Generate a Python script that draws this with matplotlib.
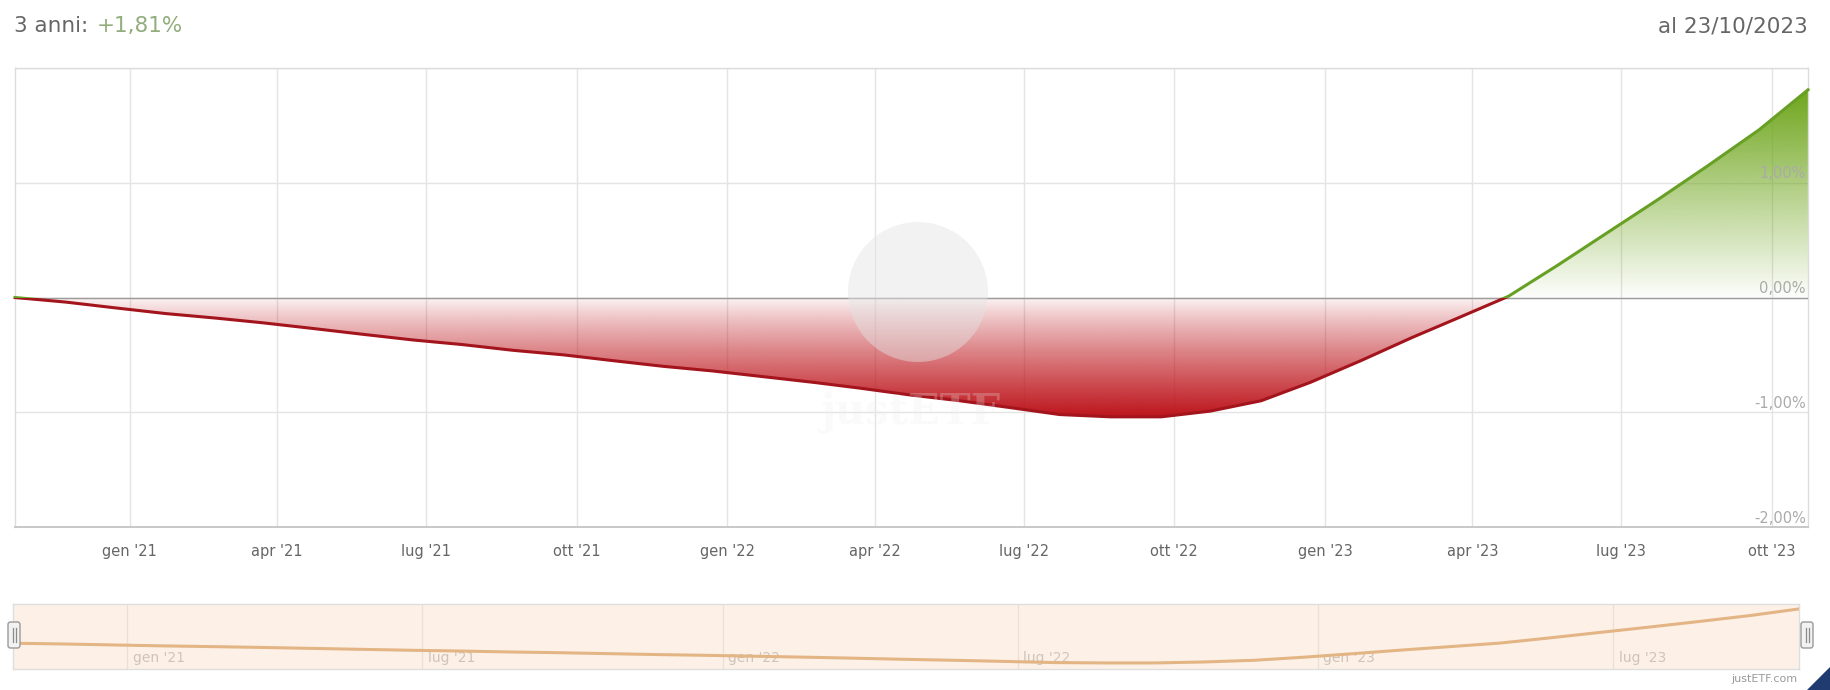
import numpy as np
import pandas as pd
import matplotlib
matplotlib.use("Agg")
import matplotlib.pyplot as plt
import matplotlib.dates as mdates
from matplotlib.colors import to_rgb
from matplotlib.patches import Rectangle, Circle, FancyBboxPatch, Polygon
from matplotlib.lines import Line2D
from matplotlib.path import Path

# ---------------- data ----------------
dates = pd.date_range("2020-10-23", periods=37, freq=pd.DateOffset(months=1))
values = [0.00, -0.04, -0.09, -0.14, -0.18, -0.22, -0.27, -0.32, -0.37, -0.41,
          -0.46, -0.50, -0.55, -0.60, -0.64, -0.69, -0.74, -0.79, -0.85, -0.90,
          -0.96, -1.02, -1.04, -1.04, -0.99, -0.90, -0.74, -0.55, -0.35, -0.18,
          0.01, 0.28, 0.57, 0.85, 1.15, 1.46, 1.81]

x_tick_dates = ["2021-01-01", "2021-04-01", "2021-07-01", "2021-10-01",
                "2022-01-01", "2022-04-01", "2022-07-01", "2022-10-01",
                "2023-01-01", "2023-04-01", "2023-07-01", "2023-10-01"]
x_tick_labels = ["gen '21", "apr '21", "lug '21", "ott '21",
                 "gen '22", "apr '22", "lug '22", "ott '22",
                 "gen '23", "apr '23", "lug '23", "ott '23"]
y_ticks = [-2, -1, 0, 1]
y_tick_labels = ["-2,00%", "-1,00%", "0,00%", "1,00%"]
nav_tick_dates = ["2021-01-01", "2021-07-01", "2022-01-01",
                  "2022-07-01", "2023-01-01", "2023-07-01"]
nav_tick_labels = ["gen '21", "lug '21", "gen '22", "lug '22", "gen '23", "lug '23"]
title_left = "3 anni:"
title_value = "+1,81%"
title_right = "al 23/10/2023"
credit = "justETF.com"
watermark = "justETF"

# ---------------- figure ----------------
plt.rcParams["font.family"] = ["DejaVu Sans"]
W, H = 1830, 690
fig = plt.figure(figsize=(W / 100, H / 100), dpi=100)
fig.patch.set_facecolor("white")

def px_rect(l, t, r, b):
    return [l / W, 1 - b / H, (r - l) / W, (b - t) / H]

ax = fig.add_axes(px_rect(15, 68, 1808, 527))
xs = mdates.date2num(pd.to_datetime(dates))
ys = np.array(values)

def gradient_area(ax, xs, ys, where, color, y_lo, y_hi, a_lo, a_hi, gamma):
    coll = ax.fill_between(xs, ys, 0, where=where, interpolate=True,
                           facecolor="none", edgecolor="none", lw=0)
    clip = Path.make_compound_path(*coll.get_paths())
    rgb = to_rgb(color)
    n = 300
    t = np.linspace(0, 1, n)
    if a_lo > a_hi:
        alpha = a_hi + (a_lo - a_hi) * (1 - t) ** gamma
    else:
        alpha = a_lo + (a_hi - a_lo) * t ** gamma
    img = np.empty((n, 2, 4))
    img[..., :3] = rgb
    img[..., 3] = alpha[:, None]
    im = ax.imshow(img, extent=[xs[0], xs[-1], y_lo, y_hi], origin="lower",
                   aspect="auto", interpolation="bilinear", zorder=2)
    im.set_clip_path(clip, transform=ax.transData)

gradient_area(ax, xs, ys, ys <= 0, "#bd141b", ys.min(), 0, 1.0, 0.03, 0.85)
gradient_area(ax, xs, ys, ys > 0, "#6ea51b", 0, ys.max(), 0.02, 1.0, 1.0)

red_line, = ax.plot(xs, ys, color="#a3141c", lw=2.2, zorder=4, solid_joinstyle="round")
red_line.set_clip_path(Rectangle((xs[0] - 50, -5), xs[-1] - xs[0] + 100, 5,
                                 transform=ax.transData))
green_line, = ax.plot(xs, ys, color="#67a024", lw=2.2, zorder=4, solid_joinstyle="round")
green_line.set_clip_path(Rectangle((xs[0] - 50, 0), xs[-1] - xs[0] + 100, 5,
                                   transform=ax.transData))

ax.set_xlim(xs[0], xs[-1])
ax.set_ylim(-2, 2)
tick_nums = mdates.date2num(pd.to_datetime(x_tick_dates))
ax.set_xticks(tick_nums)
ax.set_xticklabels(x_tick_labels)
ax.set_yticks([-2, -1, 0, 1, 2])
ax.tick_params(axis="x", length=0, pad=12.5, labelsize=10.5, labelcolor="#666666")
ax.tick_params(axis="y", length=0, labelleft=False)
ax.grid(True, color="#e4e4e4", lw=1.0, zorder=0)
ax.set_axisbelow(True)
ax.axhline(0, color="#9c9c9c", lw=1.0, zorder=3)
for s in ax.spines.values():
    s.set_color("#dcdcdc")
    s.set_linewidth(1.0)
ax.spines["bottom"].set_color("#c8c8c8")
ax.spines["bottom"].set_linewidth(1.4)

for yv, lab in zip(y_ticks, y_tick_labels):
    ax.annotate(lab, xy=(1, yv), xycoords=("axes fraction", "data"),
                xytext=(-1.5, 1), textcoords="offset points",
                ha="right", va="bottom", fontsize=10.5, color="#aaaaaa", zorder=5)

# header
t1 = fig.text(14 / W, 1 - 26 / H, title_left, ha="left", va="center",
              fontsize=15.5, color="#666666")
fig.canvas.draw()
ax.annotate(title_value, xy=(1, 0.5), xycoords=t1, xytext=(6, 0),
            textcoords="offset points", ha="left", va="center",
            fontsize=15.5, color="#91ad7c", annotation_clip=False)
fig.text(1808 / W, 1 - 26 / H, title_right, ha="right", va="center",
         fontsize=15.5, color="#666666")

# watermark
fig.add_artist(Circle((9.18, (H - 292) / 100), 0.70, transform=fig.dpi_scale_trans,
                      facecolor="#e4e4e4", edgecolor="none", alpha=0.45, zorder=5))
fig.text(910 / W, 1 - 412 / H, watermark, ha="center", va="center", fontsize=30,
         family="DejaVu Serif", fontweight="bold", color="#eeeeee", alpha=0.25, zorder=5)

# ---------------- navigator ----------------
nav = fig.add_axes(px_rect(13, 604, 1799, 669))
nav.set_facecolor("#fdf1e7")
nav_nums = mdates.date2num(pd.to_datetime(nav_tick_dates))
for d, lab in zip(nav_nums, nav_tick_labels):
    nav.axvline(d, color="#ebe0d6", lw=0.9, zorder=1)
    nav.annotate(lab, xy=(d, 0), xycoords=("data", "axes fraction"),
                 xytext=(4, 3), textcoords="offset points", ha="left", va="bottom",
                 fontsize=10, color="#cdc4bb", zorder=2)
nav.plot(xs, ys, color="#e3b585", lw=2.2, zorder=3)
nav.set_xlim(xs[0], xs[-1])
nav.set_ylim(-1.36, 2.07)
nav.set_xticks([])
nav.set_yticks([])
for s in nav.spines.values():
    s.set_color("#dedede")
    s.set_linewidth(1.0)

def handle(cx):
    fig.add_artist(FancyBboxPatch(((cx - 6) / 100, (H - 648) / 100), 0.12, 0.26,
                                  boxstyle="round,pad=0,rounding_size=0.025",
                                  transform=fig.dpi_scale_trans, facecolor="#f2f2f2",
                                  edgecolor="#9a9a9a", lw=1.0, zorder=6))
    for dx in (-1.5, 1.5):
        fig.add_artist(Line2D([(cx + dx) / 100] * 2, [(H - 642) / 100, (H - 628) / 100],
                              transform=fig.dpi_scale_trans, color="#8a8a8a",
                              lw=0.9, zorder=7))

handle(14)
handle(1807)

fig.text(1797 / W, 1 - 679 / H, credit, ha="right", va="center",
         fontsize=8, color="#9a9a9a")
fig.add_artist(Polygon([(18.30, 0.23), (18.30, 0.0), (18.07, 0.0)], closed=True,
                       transform=fig.dpi_scale_trans, facecolor="#1f3b70",
                       edgecolor="none", zorder=6))

fig.savefig("out.png", dpi=100)
